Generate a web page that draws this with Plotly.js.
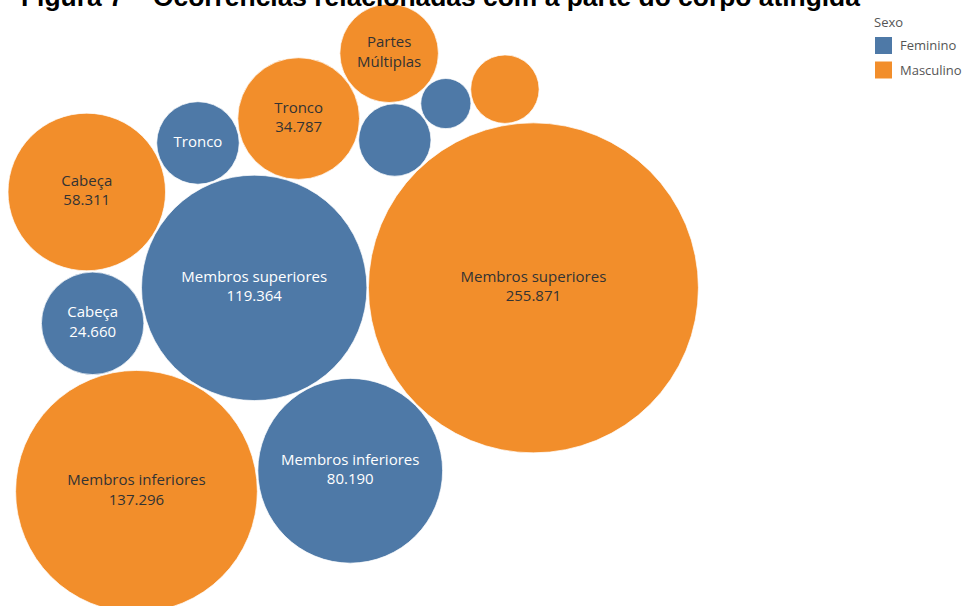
<!DOCTYPE html>
<html>
<head>
<meta charset="utf-8">
<script src="https://cdn.plot.ly/plotly-3.0.1.min.js"></script>
<style>html,body{margin:0;padding:0;background:#fff;}#chart{width:973px;height:606px;}</style>
</head>
<body>
<div id="chart"></div>
<script>
// ---- data ----
const categories = ['Membros superiores', 'Membros inferiores', 'Cabeça', 'Tronco', 'Partes Múltiplas', 'Ignorado'];
const feminino  = [119364, 80190, 24660, 16000, 12300, 5900];
const masculino = [255871, 137296, 58311, 34787, 22800, 11000];
const sexos = ['Feminino', 'Masculino'];
const legendTitle = 'Sexo';
const chartTitle = 'Figura 7 – Ocorrências relacionadas com a parte do corpo atingida';

// ---- styling / layout parameters ----
const colors = {Feminino: '#4e79a7', Masculino: '#f28e2b'};
const textColors = {Feminino: '#ffffff', Masculino: '#333333'};
const W = 973, H = 606;
const R_MAX = 165;            // radius (px) of the largest bubble
const GAP = 1.5;              // gap (px) between touching bubbles
const PAD_LEFT = 8, PAD_TOP = 4;

const series = {Feminino: feminino, Masculino: masculino};
const vmax = Math.max(...feminino, ...masculino);
const radius = v => R_MAX * Math.sqrt(v / vmax);

// packing order: each bubble is placed tangent to two already placed bubbles
// node = [sex, categoryIndex]
const seeds = [['Masculino', 0], ['Feminino', 0]];
const steps = [
  [['Feminino', 1], ['Masculino', 0], ['Feminino', 0], -1],
  [['Masculino', 1], ['Feminino', 0], ['Feminino', 1], 1],
  [['Feminino', 2], ['Feminino', 0], ['Masculino', 1], 1],
  [['Masculino', 2], ['Feminino', 0], ['Feminino', 2], 1],
  [['Feminino', 3], ['Feminino', 0], ['Masculino', 2], 1],
  [['Masculino', 3], ['Feminino', 0], ['Feminino', 3], 1],
  [['Feminino', 4], ['Masculino', 0], ['Masculino', 3], 1],
  [['Masculino', 4], ['Feminino', 4], ['Masculino', 3], 1],
  [['Feminino', 5], ['Feminino', 4], ['Masculino', 4], 1],
  [['Masculino', 5], ['Masculino', 0], ['Feminino', 5], 1]
];

const pos = {};
const key = n => n[0] + '|' + n[1];
const rOf = n => radius(series[n[0]][n[1]]);
{
  const r0 = rOf(seeds[0]), r1 = rOf(seeds[1]);
  pos[key(seeds[0])] = [0, 0];
  pos[key(seeds[1])] = [-(r0 + r1 + GAP), 0];
}
steps.forEach(([c, a, b, side]) => {
  const pa = pos[key(a)], pb = pos[key(b)];
  const ra = rOf(a), rb = rOf(b), rc = rOf(c);
  const dx = pb[0] - pa[0], dy = pb[1] - pa[1];
  const d = Math.hypot(dx, dy);
  const ux = dx / d, uy = dy / d;
  const da = ra + rc + GAP, db = rb + rc + GAP;
  const x = (da * da - db * db + d * d) / (2 * d);
  const h = Math.sqrt(Math.max(0, da * da - x * x));
  pos[key(c)] = [pa[0] + x * ux - side * h * uy, pa[1] + x * uy + side * h * ux];
});

// bounding box of the packed cluster
let minX = Infinity, minY = Infinity;
Object.keys(pos).forEach(k => {
  const [s, i] = k.split('|');
  const r = radius(series[s][+i]);
  minX = Math.min(minX, pos[k][0] - r);
  minY = Math.min(minY, pos[k][1] - r);
});
const x0 = minX - PAD_LEFT, y0 = minY - PAD_TOP;

const fmt = v => String(v).replace(/\B(?=(\d{3})+(?!\d))/g, '.');
function label(cat, v) {
  const r = radius(v);
  if (r >= 50) return cat + '<br>' + fmt(v);
  if (r >= 40) return cat.length > 10 ? cat.replace(' ', '<br>') : cat;
  return '';
}

const traces = [];
sexos.forEach(s => {
  const vals = series[s];
  traces.push({
    type: 'scatter',
    mode: 'markers+text',
    name: s,
    showlegend: false,
    x: categories.map((c, i) => pos[key([s, i])][0]),
    y: categories.map((c, i) => pos[key([s, i])][1]),
    text: categories.map((c, i) => label(c, vals[i])),
    customdata: vals.map(fmt),
    hovertext: categories,
    hovertemplate: '%{hovertext}<br>' + s + ': %{customdata}<extra></extra>',
    textposition: 'middle center',
    textfont: {family: 'Open Sans, sans-serif', size: 15, color: textColors[s]},
    marker: {
      size: vals.map(v => 2 * radius(v)),
      sizemode: 'diameter',
      sizeref: 1,
      color: colors[s],
      opacity: 1,
      line: {color: 'rgba(255,255,255,0.7)', width: 1}
    },
    cliponaxis: false
  });
});

// custom legend (square swatches), built from the sexos list
const LEG_X = 875, LEG_Y0 = 37, LEG_STEP = 24.5, SW = 17;
const shapes = sexos.map((s, i) => ({
  type: 'rect', xref: 'paper', yref: 'paper',
  x0: LEG_X / W, x1: (LEG_X + SW) / W,
  y0: 1 - (LEG_Y0 + i * LEG_STEP + SW) / H, y1: 1 - (LEG_Y0 + i * LEG_STEP) / H,
  fillcolor: colors[s], line: {width: 0}
}));
const annotations = sexos.map((s, i) => ({
  text: s, xref: 'paper', yref: 'paper',
  x: (LEG_X + SW + 6) / W, y: 1 - (LEG_Y0 + i * LEG_STEP + SW / 2) / H,
  xanchor: 'left', yanchor: 'middle', showarrow: false,
  font: {family: 'Open Sans, sans-serif', size: 13, color: '#555'}
}));
annotations.push({
  text: legendTitle, xref: 'paper', yref: 'paper',
  x: 872 / W, y: 1 - 22 / H, xanchor: 'left', yanchor: 'middle', showarrow: false,
  font: {family: 'Open Sans, sans-serif', size: 13, color: '#555'}
});
annotations.push({
  text: '<b>' + chartTitle + '</b>',
  xref: 'paper', yref: 'paper', x: 440 / W, y: 1 + 3 / H,
  xanchor: 'center', yanchor: 'middle', showarrow: false,
  font: {family: 'Liberation Sans, Arial, sans-serif', size: 26.4, color: '#000'}
});

const layout = {
  width: W, height: H,
  margin: {l: 0, r: 0, t: 0, b: 0, pad: 0},
  paper_bgcolor: '#ffffff', plot_bgcolor: '#ffffff',
  xaxis: {range: [x0, x0 + W], visible: false, fixedrange: true},
  yaxis: {range: [y0 + H, y0], visible: false, fixedrange: true},
  showlegend: false,
  shapes: shapes,
  annotations: annotations,
  hovermode: 'closest'
};

Plotly.newPlot('chart', traces, layout, {displayModeBar: false});
</script>
</body>
</html>
